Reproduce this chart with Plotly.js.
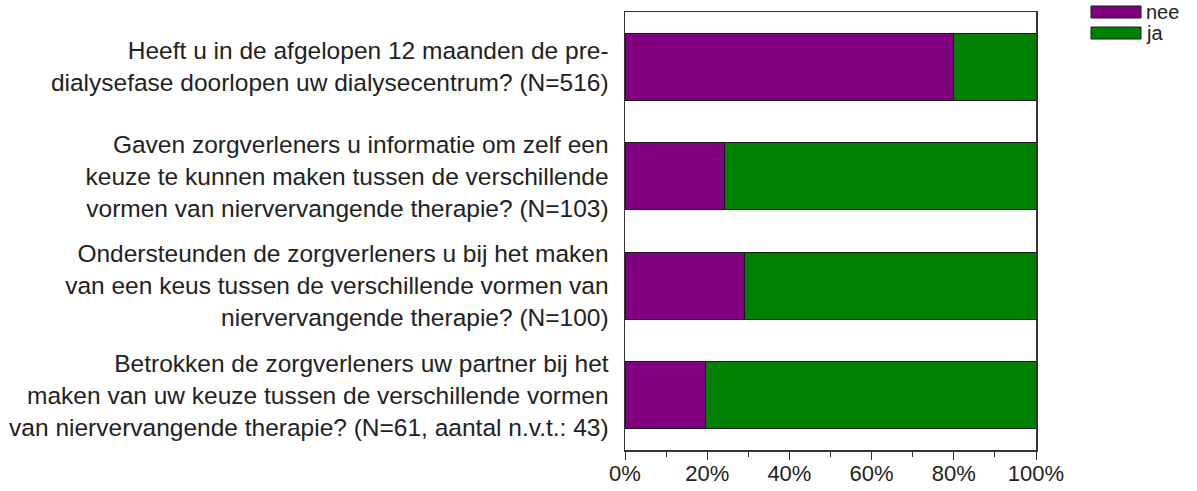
<!DOCTYPE html>
<html>
<head>
<meta charset="utf-8">
<script src="https://cdn.plot.ly/plotly-3.0.1.min.js"></script>
<style>html,body{margin:0;padding:0;background:#fff;}#chart{width:1197px;height:491px;}</style>
</head>
<body>
<div id="chart"></div>
<script>
var categories = [
  "Heeft u in de afgelopen 12 maanden de pre-<br>dialysefase doorlopen uw dialysecentrum? (N=516)",
  "Gaven zorgverleners u informatie om zelf een<br>keuze te kunnen maken tussen de verschillende<br>vormen van niervervangende therapie? (N=103)",
  "Ondersteunden de zorgverleners u bij het maken<br>van een keus tussen de verschillende vormen van<br>niervervangende therapie? (N=100)",
  "Betrokken de zorgverleners uw partner bij het<br>maken van uw keuze tussen de verschillende vormen<br>van niervervangende therapie? (N=61, aantal n.v.t.: 43)"
];
var seriesNames = ["nee", "ja"];
var neeValues = [80.0, 24.3, 29.0, 19.7];
var jaValues = [20.0, 75.7, 71.0, 80.3];
var tickValues = [0, 20, 40, 60, 80, 100];
var tickLabels = ["0%", "20%", "40%", "60%", "80%", "100%"];

var colors = ["#800080", "#008000"];
var font = "Liberation Sans, Arial, sans-serif";

var traces = [neeValues, jaValues].map(function (vals, i) {
  return {
    type: "bar",
    orientation: "h",
    name: seriesNames[i],
    y: categories,
    x: vals,
    marker: {color: colors[i], line: {color: "#1a1a1a", width: 1}},
    showlegend: false,
    hoverinfo: "x+name"
  };
});

var shapes = [];
var annotations = [];
var H = 491, B = 41, PH = 438, L = 625, PW = 411;
var swatchTop = [6, 27];
var swatchH = 12;
seriesNames.forEach(function (n, i) {
  shapes.push({
    type: "rect", xref: "paper", yref: "paper",
    x0: (1091 - L) / PW, x1: (1141 - L) / PW,
    y0: (H - B - (swatchTop[i] + swatchH)) / PH, y1: (H - B - swatchTop[i]) / PH,
    fillcolor: colors[i], line: {color: "#1a1a1a", width: 1}
  });
  annotations.push({
    xref: "paper", yref: "paper",
    x: (1144 - L) / PW, y: (H - B - (swatchTop[i] + swatchH / 2)) / PH,
    xanchor: "left", yanchor: "middle", showarrow: false,
    text: n, font: {family: font, size: 20, color: "#222"}
  });
});

var layout = {
  width: 1197, height: 491,
  margin: {l: 625, r: 161, t: 12, b: 41, pad: 0},
  paper_bgcolor: "#fff", plot_bgcolor: "#fff",
  barmode: "stack",
  bargap: 0.39,
  showlegend: false,
  font: {family: font, size: 23, color: "#222"},
  xaxis: {
    range: [0, 100], fixedrange: true,
    tickvals: tickValues, ticktext: tickLabels,
    ticks: "outside", ticklen: 8, tickwidth: 1, tickcolor: "#333",
    minor: {ticks: "outside", ticklen: 5, tickwidth: 1, tickcolor: "#333", tickvals: [10, 30, 50, 70, 90]},
    showgrid: false, zeroline: false,
    showline: true, linecolor: "#333", linewidth: 1.5, mirror: true,
    ticklabelstandoff: -5,
    tickfont: {family: font, size: 22, color: "#222"}
  },
  yaxis: {
    type: "category", categoryorder: "array", categoryarray: categories,
    autorange: "reversed", fixedrange: true,
    showgrid: false, zeroline: false, ticks: "",
    showline: true, linecolor: "#333", linewidth: 1.5, mirror: true,
    ticklabelstandoff: 10,
    tickfont: {family: font, size: 24.5, color: "#222"}
  },
  shapes: shapes,
  annotations: annotations
};

Plotly.newPlot("chart", traces, layout, {displayModeBar: false, staticPlot: true});
</script>
</body>
</html>
